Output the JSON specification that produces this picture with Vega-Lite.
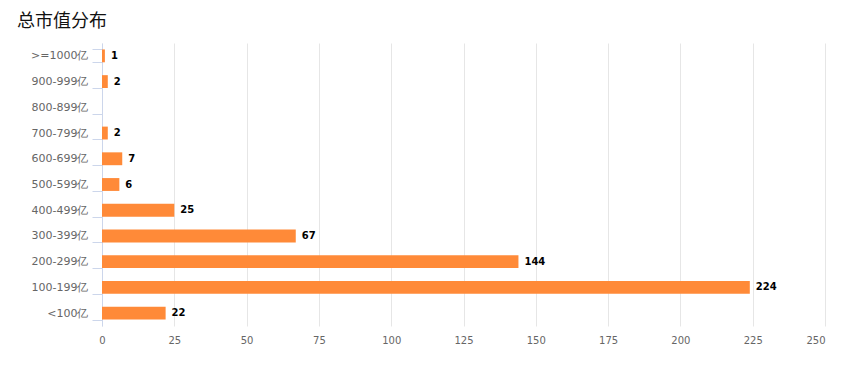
{
  "$schema": "https://vega.github.io/schema/vega-lite/v6.json",
  "autosize": "none",
  "width": 723,
  "height": 283,
  "padding": {"left": 102, "top": 43, "right": 24, "bottom": 40},
  "background": "white",
  "title": {"text": "总市值分布", "anchor": "start", "frame": "group", "dx": -85, "offset": 6, "fontSize": 18, "fontWeight": "normal", "font": "Noto Sans CJK SC", "color": "#111"},
  "config": {"view": {"stroke": null}, "font": "DejaVu Sans"},
  "data": {"values": [
    {"cat": ">=1000亿", "v": 1},
    {"cat": "900-999亿", "v": 2},
    {"cat": "800-899亿", "v": 0},
    {"cat": "700-799亿", "v": 2},
    {"cat": "600-699亿", "v": 7},
    {"cat": "500-599亿", "v": 6},
    {"cat": "400-499亿", "v": 25},
    {"cat": "300-399亿", "v": 67},
    {"cat": "200-299亿", "v": 144},
    {"cat": "100-199亿", "v": 224},
    {"cat": "<100亿", "v": 22}
  ]},
  "encoding": {
    "y": {"field": "cat", "type": "nominal", "sort": null,
      "scale": {"paddingInner": 0.5, "paddingOuter": 0.25},
      "axis": {"title": null, "tickBand": "extent", "domainColor": "#ccd6eb", "tickColor": "#ccd6eb", "tickSize": 10, "labelPadding": 4, "labelColor": "#666", "labelFontSize": 11, "labelFont": "DejaVu Sans", "grid": false}},
    "x": {"field": "v", "type": "quantitative",
      "scale": {"domain": [0, 250], "nice": false},
      "axis": {"title": null, "values": [0, 25, 50, 75, 100, 125, 150, 175, 200, 225, 250], "grid": true, "gridColor": "#e6e6e6", "domain": false, "ticks": false, "labelPadding": 9, "labelColor": "#666", "labelFontSize": 10, "labelFont": "DejaVu Sans",
        "labelAlign": {"condition": {"test": "datum.value == 250", "value": "right"}, "value": "center"}}}
  },
  "layer": [
    {"mark": {"type": "bar", "color": "#ff8a38"}},
    {"transform": [{"filter": "datum.v > 0"}],
     "mark": {"type": "text", "align": "left", "dx": 6, "fontWeight": "bold", "fontSize": 10, "color": "#000", "font": "DejaVu Sans"},
     "encoding": {"text": {"field": "v", "type": "quantitative"}}}
  ]
}
